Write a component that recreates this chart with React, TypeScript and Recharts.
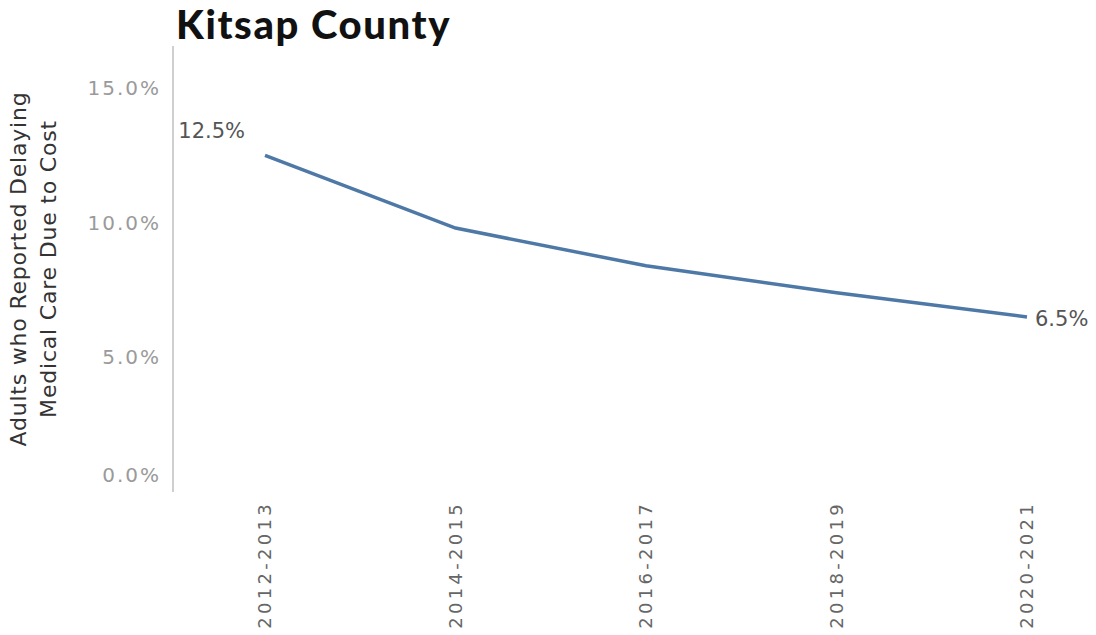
import { LineChart, Line, XAxis, YAxis, LabelList } from 'recharts';

const periods = ['2012-2013', '2014-2015', '2016-2017', '2018-2019', '2020-2021'];
const delayedCare = [12.5, 9.8, 8.4, 7.4, 6.5];
const yTicks = [0, 5, 10, 15];

const rows = periods.map((p, i) => ({ period: p, value: delayedCare[i] }));

const FONT = '"DejaVu Sans", sans-serif';

function YTick({ x, y, payload }: any) {
  // Tableau lifts the zero label up a bit so it stays inside the pane
  const shift = payload.value === 0 ? -17 : 0;
  return (
    <text x={x - 4} y={y + shift} dy="0.35em" textAnchor="end" fontFamily={FONT} fontSize={20} letterSpacing={2} fill="#9a9a9a">
      {payload.value.toFixed(1)}%
    </text>
  );
}

function XTick({ x, y, payload }: any) {
  return (
    <text x={x} y={y} transform={`rotate(-90 ${x} ${y})`} dx={-1} dy="0.35em" textAnchor="end" fontFamily={FONT} fontSize={18} letterSpacing={3.3} fill="#666">
      {payload.value}
    </text>
  );
}

function EndLabel({ x, y, index, value }: any) {
  if (index === 0) {
    return (
      <text x={x - 20} y={y - 17} textAnchor="end" fontFamily={FONT} fontSize={21} fill="#555">
        {value.toFixed(1)}%
      </text>
    );
  }
  if (index === delayedCare.length - 1) {
    return (
      <text x={x + 8} y={y + 9} textAnchor="start" fontFamily={FONT} fontSize={21} fill="#555">
        {value.toFixed(1)}%
      </text>
    );
  }
  return null;
}

export default function App() {
  return (
    <div style={{ position: 'relative', width: 1096, height: 635, background: '#fff' }}>
      <style>{'body{margin:0}'}</style>
      <div style={{ position: 'absolute', left: 176, top: 0, fontFamily: 'Lato, sans-serif', fontWeight: 900, fontSize: 40, letterSpacing: 1.6, color: '#111', whiteSpace: 'nowrap' }}>
        Kitsap County
      </div>
      <div
        style={{
          position: 'absolute', left: 34, top: 269, transform: 'translate(-50%, -50%) rotate(-90deg)',
          fontFamily: FONT, fontSize: 22, letterSpacing: 0.8, lineHeight: '30px', color: '#333', textAlign: 'center', whiteSpace: 'nowrap',
        }}
      >
        Adults who Reported Delaying<br />Medical Care Due to Cost
      </div>
      <div style={{ position: 'absolute', left: 0, top: 0 }}>
        <LineChart width={1096} height={635} data={rows} margin={{ top: 46, right: 6, bottom: 0, left: 0 }}>
          <XAxis
            dataKey="period" type="category" scale="point" padding={{ left: 92, right: 63 }}
            axisLine={false} tickLine={false} tick={<XTick />} height={143} interval={0}
          />
          <YAxis
            type="number" domain={[0, 16.56]} ticks={yTicks} width={173}
            axisLine={{ stroke: '#cfcfcf', strokeWidth: 2 }} tickLine={false} tick={<YTick />}
          />
          <Line type="linear" dataKey="value" stroke="#4e79a7" strokeWidth={3.5} dot={false} isAnimationActive={false}>
            <LabelList dataKey="value" content={<EndLabel />} />
          </Line>
        </LineChart>
      </div>
    </div>
  );
}
